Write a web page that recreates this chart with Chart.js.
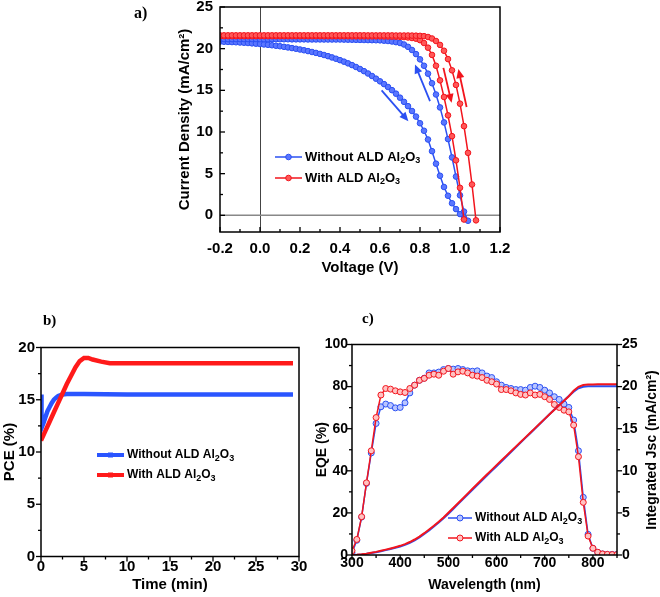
<!DOCTYPE html>
<html>
<head>
<meta charset="utf-8">
<script src="https://cdn.jsdelivr.net/npm/chart.js@4.4.0/dist/chart.umd.min.js"></script>
<style>
  body { margin: 0; background: #fff; }
  #wrap { position: relative; width: 660px; height: 597px; overflow: hidden; }
  canvas { position: absolute; left: 0; top: 0; }
  .tag { position: absolute; font: bold 15px 'Liberation Serif', 'Times New Roman', serif; line-height: 1; }
</style>
</head>
<body>
<div id="wrap">
  <canvas id="chartA" width="660" height="597"></canvas>
  <canvas id="chartB" width="660" height="597"></canvas>
  <canvas id="chartC" width="660" height="597"></canvas>
  <div class="tag" style="left:134px;top:5px;font-size:16px">a)</div>
  <div class="tag" style="left:43px;top:313px">b)</div>
  <div class="tag" style="left:362px;top:311px">c)</div>
</div>
<script>
// ---- panel a: J-V curves ----
const voltage = [-0.2,-0.18,-0.16,-0.14,-0.12,-0.1,-0.08,-0.06,-0.04,-0.02,0,0.02,0.04,0.06,0.08,0.1,0.12,0.14,0.16,0.18,0.2,0.22,0.24,0.26,0.28,0.3,0.32,0.34,0.36,0.38,0.4,0.42,0.44,0.46,0.48,0.5,0.52,0.54,0.56,0.58,0.6,0.62,0.64,0.66,0.68,0.7,0.72,0.74,0.76,0.78,0.8,0.82,0.84,0.86,0.88,0.9,0.92,0.94,0.96,0.98,1,1.02,1.04,1.06,1.08];
const jBlueFwd = [20.85,20.83,20.81,20.79,20.77,20.74,20.71,20.68,20.64,20.60,
  20.56,20.51,20.46,20.41,20.35,20.29,20.22,20.15,20.07,19.99,
  19.90,19.81,19.71,19.60,19.49,19.37,19.24,19.10,18.95,18.79,
  18.62,18.44,18.24,18.03,17.80,17.56,17.30,17.02,16.72,16.40,
  16.08,15.75,15.40,15.02,14.60,14.12,13.62,13.10,12.52,11.85,
  11.05,10.15,9.10,7.70,6.20,4.75,3.40,2.35,1.45,0.75,
  0.15,-0.45];
const jBlueRev = [21.15,21.15,21.15,21.15,21.15,21.15,21.15,21.15,21.15,21.15,
  21.14,21.14,21.14,21.14,21.14,21.13,21.13,21.13,21.12,21.12,
  21.12,21.12,21.11,21.11,21.11,21.11,21.10,21.10,21.10,21.10,
  21.10,21.09,21.08,21.07,21.06,21.05,21.04,21.03,21.02,21.01,
  21.00,20.96,20.92,20.86,20.78,20.68,20.50,20.22,19.84,19.35,
  18.72,17.95,17.00,15.85,14.50,12.95,11.15,9.15,6.95,4.65,
  2.40,0.45,-0.65];
const jRedFwd = [21.50,21.50,21.50,21.50,21.50,21.50,21.50,21.50,21.50,21.50,
  21.50,21.50,21.50,21.50,21.50,21.50,21.50,21.50,21.50,21.50,
  21.50,21.50,21.50,21.50,21.50,21.50,21.49,21.49,21.49,21.49,
  21.49,21.49,21.49,21.48,21.48,21.48,21.48,21.48,21.48,21.48,
  21.48,21.47,21.46,21.45,21.44,21.42,21.39,21.34,21.28,21.20,
  21.02,20.68,20.12,19.25,17.95,16.20,14.20,12.00,9.50,6.60,
  3.30,-0.50];
const jRedRev = [21.60,21.60,21.60,21.60,21.60,21.60,21.60,21.60,21.60,21.60,
  21.60,21.60,21.60,21.60,21.60,21.60,21.60,21.60,21.60,21.60,
  21.60,21.60,21.60,21.60,21.60,21.60,21.60,21.60,21.60,21.60,
  21.60,21.60,21.60,21.60,21.60,21.60,21.60,21.59,21.59,21.59,
  21.59,21.59,21.59,21.59,21.58,21.58,21.58,21.58,21.57,21.56,
  21.54,21.50,21.40,21.22,20.92,20.45,19.75,18.75,17.40,15.65,
  13.40,10.70,7.50,3.70,-0.60];
const vTicks = [-0.2,0,0.2,0.4,0.6,0.8,1.0,1.2];
const vMinor = [-0.1,0.1,0.3,0.5,0.7,0.9,1.1];
const jTicks = [0,5,10,15,20,25];
const jMinor = [2.5,7.5,12.5,17.5,22.5];
// scan-direction arrows [V, J]
const scanArrows = [
  {from: [0.608, 15.0], to: [0.742, 11.3], color: 'blue'},
  {from: [0.85, 13.7], to: [0.775, 18.1], color: 'blue'},
  {from: [0.917, 17.7], to: [0.958, 13.5], color: 'red'},
  {from: [1.033, 13.0], to: [0.992, 17.55], color: 'red'}
];

// ---- panel b: stabilised PCE ----
const timeBlue = [0,0.02,0.1,0.3,0.5,0.75,1.0,1.25,1.5,1.75,2.0,2.5,3.0,5,10,15,20,25,29.3];
const pceBlue = [15.5,15.5,12.3,12.8,13.3,13.9,14.3,14.7,15.0,15.2,15.35,15.5,15.55,15.55,15.5,15.5,15.5,15.5,15.5];
const timeRed = [0,0.5,1,1.5,2,2.5,3,3.5,4,4.5,5,5.5,6,7,8,8.5,10,15,20,25,29.3];
const pceRed = [11.1,12.0,12.9,13.8,14.7,15.6,16.5,17.3,18.1,18.7,19.0,19.0,18.85,18.65,18.5,18.5,18.5,18.5,18.5,18.5,18.5];
const tTicks = [0,5,10,15,20,25,30];
const tMinor = [2.5,7.5,12.5,17.5,22.5,27.5];
const pceTicks = [0,5,10,15,20];
const pceMinor = [2.5,7.5,12.5,17.5];

// ---- panel c: EQE and integrated Jsc ----
const wavelength = [300,310,320,330,340,350,360,370,380,390,400,410,420,430,440,450,460,470,480,490,500,510,520,530,540,550,560,570,580,590,600,610,620,630,640,650,660,670,680,690,700,710,720,730,740,750,760,770,780,790,800,810,820,830,840,850];
const eqeBlue = [1.0,7.0,18.0,34.0,48.5,62.5,70.4,71.7,71.0,69.9,
  70.1,72.3,77.0,80.7,83.0,84.0,86.5,86.5,86.9,88.1,
  88.6,88.3,88.6,88.1,87.5,87.3,87.5,86.5,85.0,84.3,
  82.3,80.7,79.6,79.1,78.6,78.6,78.3,79.6,80.2,79.6,
  78.3,77.0,75.2,73.9,71.7,70.1,64.1,49.5,27.4,9.8,
  3.2,1.2,0.5,0.3,0.3,0.3];
const eqeRed = [2.0,7.4,18.2,34.3,49.5,65.3,76.0,79.1,78.8,78.0,
  77.5,77.2,79.1,80.7,83.0,83.9,85.4,85.9,85.4,87.3,
  88.6,85.9,87.0,87.3,86.5,85.4,85.0,84.3,83.0,82.3,
  81.2,78.6,78.6,78.0,77.0,76.3,76.0,77.0,76.0,76.3,
  75.2,73.9,71.5,70.1,68.8,68.0,61.7,46.7,25.0,9.0,
  3.2,1.3,0.5,0.3,0.2,0.2];
const jscBlue = [0,0.02,0.07,0.14,0.23,0.33,0.45,0.58,0.71,0.85,
  1.00,1.20,1.45,1.75,2.10,2.50,2.93,3.38,3.85,4.36,
  4.90,5.47,6.04,6.61,7.18,7.75,8.31,8.87,9.43,9.99,
  10.55,11.11,11.67,12.23,12.79,13.35,13.91,14.47,15.03,15.59,
  16.15,16.71,17.27,17.82,18.36,18.88,19.40,19.80,19.98,20.04,
  20.05,20.05,20.05,20.05,20.05,20.05];
const jscRed = [0,0.02,0.08,0.16,0.26,0.37,0.50,0.64,0.78,0.93,
  1.09,1.29,1.54,1.84,2.19,2.59,3.02,3.47,3.95,4.46,
  5.01,5.58,6.15,6.72,7.29,7.86,8.43,8.99,9.55,10.11,
  10.67,11.22,11.77,12.32,12.87,13.42,13.97,14.52,15.07,15.62,
  16.17,16.71,17.25,17.79,18.32,18.85,19.50,19.98,20.18,20.24,
  20.26,20.27,20.27,20.27,20.27,20.27];
const wlTicks = [300,400,500,600,700,800];
const wlMinor = [350,450,550,650,750,850];
const eqeTicks = [0,20,40,60,80,100];
const eqeMinor = [10,30,50,70,90];
const jscTicks = [0,5,10,15,20,25];
const jscMinor = [2.5,7.5,12.5,17.5,22.5];

const seriesNames = ['Without ALD Al_2O_3', 'With ALD Al_2O_3'];

const FONT = "'Liberation Sans', Arial, Helvetica, sans-serif";
const BLUE = '#2b50f2', BLUE_LIGHT = '#5a76ff', BLUE_PALE = '#b9c5ff';
const RED = '#f2151d', RED_LIGHT = '#ff5858', RED_PALE = '#ffc2c2';
const COLORS = {blue: BLUE, red: RED};

const bold = size => ({family: FONT, size: size, weight: 'bold'});
const series = (xs, ys) => ys.map((y, i) => ({x: xs[i], y: y}));

function sizeAxis(size) {
  return s => {
    if (s.isHorizontal()) s.height = size; else s.width = size;
    s.paddingLeft = 0; s.paddingRight = 0; s.paddingTop = 0; s.paddingBottom = 0;
  };
}
const setTicks = list => s => { s.ticks = list.map(v => ({value: v})); };

// text with "_n" subscripts
function drawSub(ctx, str, x, y, size) {
  const parts = str.split(/_(\d)/);
  ctx.textBaseline = 'middle';
  ctx.textAlign = 'left';
  parts.forEach((p, i) => {
    const sub = i % 2 === 1;
    ctx.font = 'bold ' + (sub ? Math.round(size * 0.72) : size) + 'px ' + FONT;
    ctx.fillText(p, x, sub ? y + size * 0.3 : y);
    x += ctx.measureText(p).width;
  });
}

const framePlugin = {
  id: 'frame',
  beforeDatasetsDraw(chart, args, o) {
    if (!o.zeroLines) return;
    const {ctx, chartArea: a, scales} = chart;
    ctx.save();
    const x0 = Math.round(scales.x.getPixelForValue(0)) + 0.5;
    ctx.strokeStyle = '#444'; ctx.lineWidth = 1;
    ctx.beginPath(); ctx.moveTo(x0, a.top); ctx.lineTo(x0, a.bottom); ctx.stroke();
    const y0 = scales.y.getPixelForValue(0);
    ctx.strokeStyle = '#888'; ctx.lineWidth = 1.5;
    ctx.beginPath(); ctx.moveTo(a.left, y0); ctx.lineTo(a.right, y0); ctx.stroke();
    ctx.restore();
  },
  afterDatasetsDraw(chart, args, o) {
    const {ctx, chartArea: a} = chart;
    ctx.save();
    ctx.strokeStyle = '#000';
    ctx.lineWidth = 1.5;
    ctx.strokeRect(a.left, a.top, a.right - a.left, a.bottom - a.top);
    ctx.lineWidth = 1.3;
    (o.marks || []).forEach(m => {
      const s = chart.scales[m.axis];
      const out = m.inward ? -1 : 1;
      const draw = (v, len) => {
        const p = s.getPixelForValue(v);
        ctx.beginPath();
        if (m.edge === 'bottom') { ctx.moveTo(p, a.bottom); ctx.lineTo(p, a.bottom + out * len); }
        else if (m.edge === 'left') { ctx.moveTo(a.left, p); ctx.lineTo(a.left - out * len, p); }
        else { ctx.moveTo(a.right, p); ctx.lineTo(a.right + out * len, p); }
        ctx.stroke();
      };
      m.major.forEach(v => draw(v, 5));
      m.minor.forEach(v => draw(v, 3));
    });
    // arrows
    (o.arrows || []).forEach(ar => {
      const sx = chart.scales.x, sy = chart.scales.y;
      const x1 = sx.getPixelForValue(ar.from[0]), y1 = sy.getPixelForValue(ar.from[1]);
      const x2 = sx.getPixelForValue(ar.to[0]), y2 = sy.getPixelForValue(ar.to[1]);
      const ang = Math.atan2(y2 - y1, x2 - x1);
      const col = COLORS[ar.color];
      ctx.strokeStyle = col; ctx.fillStyle = col; ctx.lineWidth = 1.8;
      ctx.beginPath();
      ctx.moveTo(x1, y1);
      ctx.lineTo(x2 - 6 * Math.cos(ang), y2 - 6 * Math.sin(ang));
      ctx.stroke();
      ctx.beginPath();
      ctx.moveTo(x2, y2);
      ctx.lineTo(x2 - 9 * Math.cos(ang) + 4 * Math.sin(ang), y2 - 9 * Math.sin(ang) - 4 * Math.cos(ang));
      ctx.lineTo(x2 - 9 * Math.cos(ang) - 4 * Math.sin(ang), y2 - 9 * Math.sin(ang) + 4 * Math.cos(ang));
      ctx.closePath();
      ctx.fill();
    });
    ctx.restore();
  },
  afterDraw(chart, args, o) {
    const ctx = chart.ctx;
    ctx.save();
    const lg = o.legend;
    if (lg) {
      lg.items.forEach((it, i) => {
        const y = lg.y + i * lg.gap;
        ctx.strokeStyle = it.color;
        ctx.lineWidth = lg.lineWidth;
        ctx.beginPath(); ctx.moveTo(lg.x, y); ctx.lineTo(lg.x + lg.len, y); ctx.stroke();
        const mx = lg.x + lg.len / 2;
        ctx.fillStyle = it.fill; ctx.lineWidth = 1;
        if (lg.square) {
          ctx.fillStyle = it.color;
          ctx.fillRect(mx - 2.5, y - 2.5, 5, 5);
        } else {
          ctx.beginPath(); ctx.arc(mx, y, lg.radius, 0, Math.PI * 2); ctx.fill(); ctx.stroke();
        }
        ctx.fillStyle = '#000';
        drawSub(ctx, it.text, lg.x + lg.len + 3, y, lg.size);
      });
    }
    if (o.rightTitle) {
      const r = o.rightTitle;
      ctx.translate(r.x, r.y);
      ctx.rotate(-Math.PI / 2);
      ctx.fillStyle = '#000';
      ctx.font = 'bold ' + r.size + 'px ' + FONT;
      ctx.textAlign = 'center'; ctx.textBaseline = 'middle';
      ctx.fillText(r.text, 0, 0);
    }
    ctx.restore();
  }
};

function pointSet(label, data, color, fill, radius, width, order, extra) {
  return Object.assign({
    label: label, data: data, borderColor: color, backgroundColor: fill,
    borderWidth: width, pointRadius: radius, pointBorderWidth: 1,
    pointBorderColor: color, pointBackgroundColor: fill, tension: 0, order: order
  }, extra || {});
}

const common = {
  responsive: false, animation: false, events: [],
};

// ===== chart a =====
new Chart(document.getElementById('chartA'), {
  type: 'line',
  data: {datasets: [
    pointSet(seriesNames[0], series(voltage, jBlueFwd), BLUE, BLUE_LIGHT, 2.8, 1.5, 3),
    pointSet(seriesNames[0], series(voltage, jBlueRev), BLUE, BLUE_LIGHT, 2.8, 1.5, 2),
    pointSet(seriesNames[1], series(voltage, jRedFwd), RED, RED_LIGHT, 2.8, 1.5, 1),
    pointSet(seriesNames[1], series(voltage, jRedRev), RED, RED_LIGHT, 2.8, 1.5, 0)
  ]},
  options: Object.assign({}, common, {
    layout: {padding: {left: 170, top: 7, right: 160, bottom: 315}},
    plugins: {
      legend: {display: false}, tooltip: {enabled: false},
      frame: {
        zeroLines: true,
        marks: [
          {axis: 'x', edge: 'bottom', inward: true, major: vTicks, minor: vMinor},
          {axis: 'y', edge: 'left', inward: true, major: jTicks, minor: jMinor}
        ],
        arrows: scanArrows,
        legend: {x: 275, y: 157, gap: 21, len: 27, lineWidth: 1.5, radius: 2.8, size: 13,
          items: [{text: seriesNames[0], color: BLUE, fill: BLUE_LIGHT}, {text: seriesNames[1], color: RED, fill: RED_LIGHT}]}
      }
    },
    scales: {
      x: {type: 'linear', min: -0.2, max: 1.2,
        afterFit: sizeAxis(50), afterBuildTicks: setTicks(vTicks),
        grid: {display: false, drawTicks: false}, border: {display: false},
        ticks: {padding: 8, color: '#000', font: bold(15), callback: v => v.toFixed(1)},
        title: {display: true, text: 'Voltage (V)', color: '#000', font: bold(15), padding: {top: 0, bottom: 5}}},
      y: {type: 'linear', min: -2, max: 25,
        afterFit: sizeAxis(50), afterBuildTicks: setTicks(jTicks),
        grid: {display: false, drawTicks: false}, border: {display: false},
        ticks: {padding: 7, color: '#000', font: bold(15)},
        title: {display: true, text: 'Current Density (mA/cm²)', color: '#000', font: bold(15), padding: {top: 6, bottom: 0}}}
    }
  }),
  plugins: [framePlugin]
});

// ===== chart b =====
new Chart(document.getElementById('chartB'), {
  type: 'line',
  data: {datasets: [
    pointSet(seriesNames[0], series(timeBlue, pceBlue), '#2a55ff', '#2a55ff', 0, 4.5, 1),
    pointSet(seriesNames[1], series(timeRed, pceRed), '#ff1a1a', '#ff1a1a', 0, 4.5, 0)
  ]},
  options: Object.assign({}, common, {
    layout: {padding: {left: 0, top: 347.5, right: 361, bottom: 0}},
    plugins: {
      legend: {display: false}, tooltip: {enabled: false},
      frame: {
        marks: [
          {axis: 'x', edge: 'bottom', inward: false, major: tTicks, minor: tMinor},
          {axis: 'y', edge: 'left', inward: false, major: pceTicks, minor: pceMinor}
        ],
        legend: {x: 97, y: 455, gap: 20, len: 27, lineWidth: 4, square: true, size: 12,
          items: [{text: seriesNames[0], color: '#2a55ff'}, {text: seriesNames[1], color: '#ff1a1a'}]}
      }
    },
    scales: {
      x: {type: 'linear', min: 0, max: 30,
        afterFit: sizeAxis(40.5), afterBuildTicks: setTicks(tTicks),
        grid: {display: false, drawTicks: false}, border: {display: false},
        ticks: {padding: 1, color: '#000', font: bold(15)},
        title: {display: true, text: 'Time (min)', color: '#000', font: bold(15), padding: {top: 0, bottom: 3}}},
      y: {type: 'linear', min: 0, max: 20,
        afterFit: sizeAxis(41), afterBuildTicks: setTicks(pceTicks),
        grid: {display: false, drawTicks: false}, border: {display: false},
        ticks: {padding: 6, color: '#000', font: bold(15)},
        title: {display: true, text: 'PCE (%)', color: '#000', font: bold(15), padding: {top: 1, bottom: 0}}}
    }
  }),
  plugins: [framePlugin]
});

// ===== chart c =====
new Chart(document.getElementById('chartC'), {
  type: 'line',
  data: {datasets: [
    pointSet(seriesNames[0], series(wavelength, eqeBlue), BLUE, BLUE_PALE, 3, 1.5, 3, {yAxisID: 'y'}),
    pointSet(seriesNames[1], series(wavelength, eqeRed), RED, RED_PALE, 3, 1.5, 2, {yAxisID: 'y'}),
    pointSet('Jsc ' + seriesNames[0], series(wavelength, jscBlue), BLUE, BLUE, 0, 2, 1, {yAxisID: 'y2'}),
    pointSet('Jsc ' + seriesNames[1], series(wavelength, jscRed), RED, RED, 0, 2, 0, {yAxisID: 'y2'})
  ]},
  options: Object.assign({}, common, {
    layout: {padding: {left: 312, top: 344.5, right: 0, bottom: 0}},
    plugins: {
      legend: {display: false}, tooltip: {enabled: false},
      frame: {
        marks: [
          {axis: 'x', edge: 'bottom', inward: false, major: wlTicks, minor: wlMinor},
          {axis: 'y', edge: 'left', inward: false, major: eqeTicks, minor: eqeMinor},
          {axis: 'y2', edge: 'right', inward: false, major: jscTicks, minor: jscMinor}
        ],
        legend: {x: 448, y: 518, gap: 20, len: 24, lineWidth: 1.5, radius: 3, size: 12,
          items: [{text: seriesNames[0], color: BLUE, fill: BLUE_PALE}, {text: seriesNames[1], color: RED, fill: RED_PALE}]},
        rightTitle: {x: 652, y: 450, size: 14, text: 'Integrated Jsc (mA/cm²)'}
      }
    },
    scales: {
      x: {type: 'linear', min: 300, max: 850,
        afterFit: sizeAxis(42), afterBuildTicks: setTicks(wlTicks),
        grid: {display: false, drawTicks: false}, border: {display: false},
        ticks: {padding: 0, color: '#000', font: bold(14)},
        title: {display: true, text: 'Wavelength (nm)', color: '#000', font: bold(14), padding: {top: 0, bottom: 3}}},
      y: {type: 'linear', position: 'left', min: 0, max: 100,
        afterFit: sizeAxis(40), afterBuildTicks: setTicks(eqeTicks),
        grid: {display: false, drawTicks: false}, border: {display: false},
        ticks: {padding: 4, color: '#000', font: bold(14)},
        title: {display: true, text: 'EQE (%)', color: '#000', font: bold(14), padding: {top: 2, bottom: 0}}},
      y2: {type: 'linear', position: 'right', min: 0, max: 25,
        afterFit: sizeAxis(43), afterBuildTicks: setTicks(jscTicks),
        grid: {display: false, drawTicks: false}, border: {display: false},
        ticks: {padding: 5, color: '#000', font: bold(14)}}
    }
  }),
  plugins: [framePlugin]
});
</script>
</body>
</html>
